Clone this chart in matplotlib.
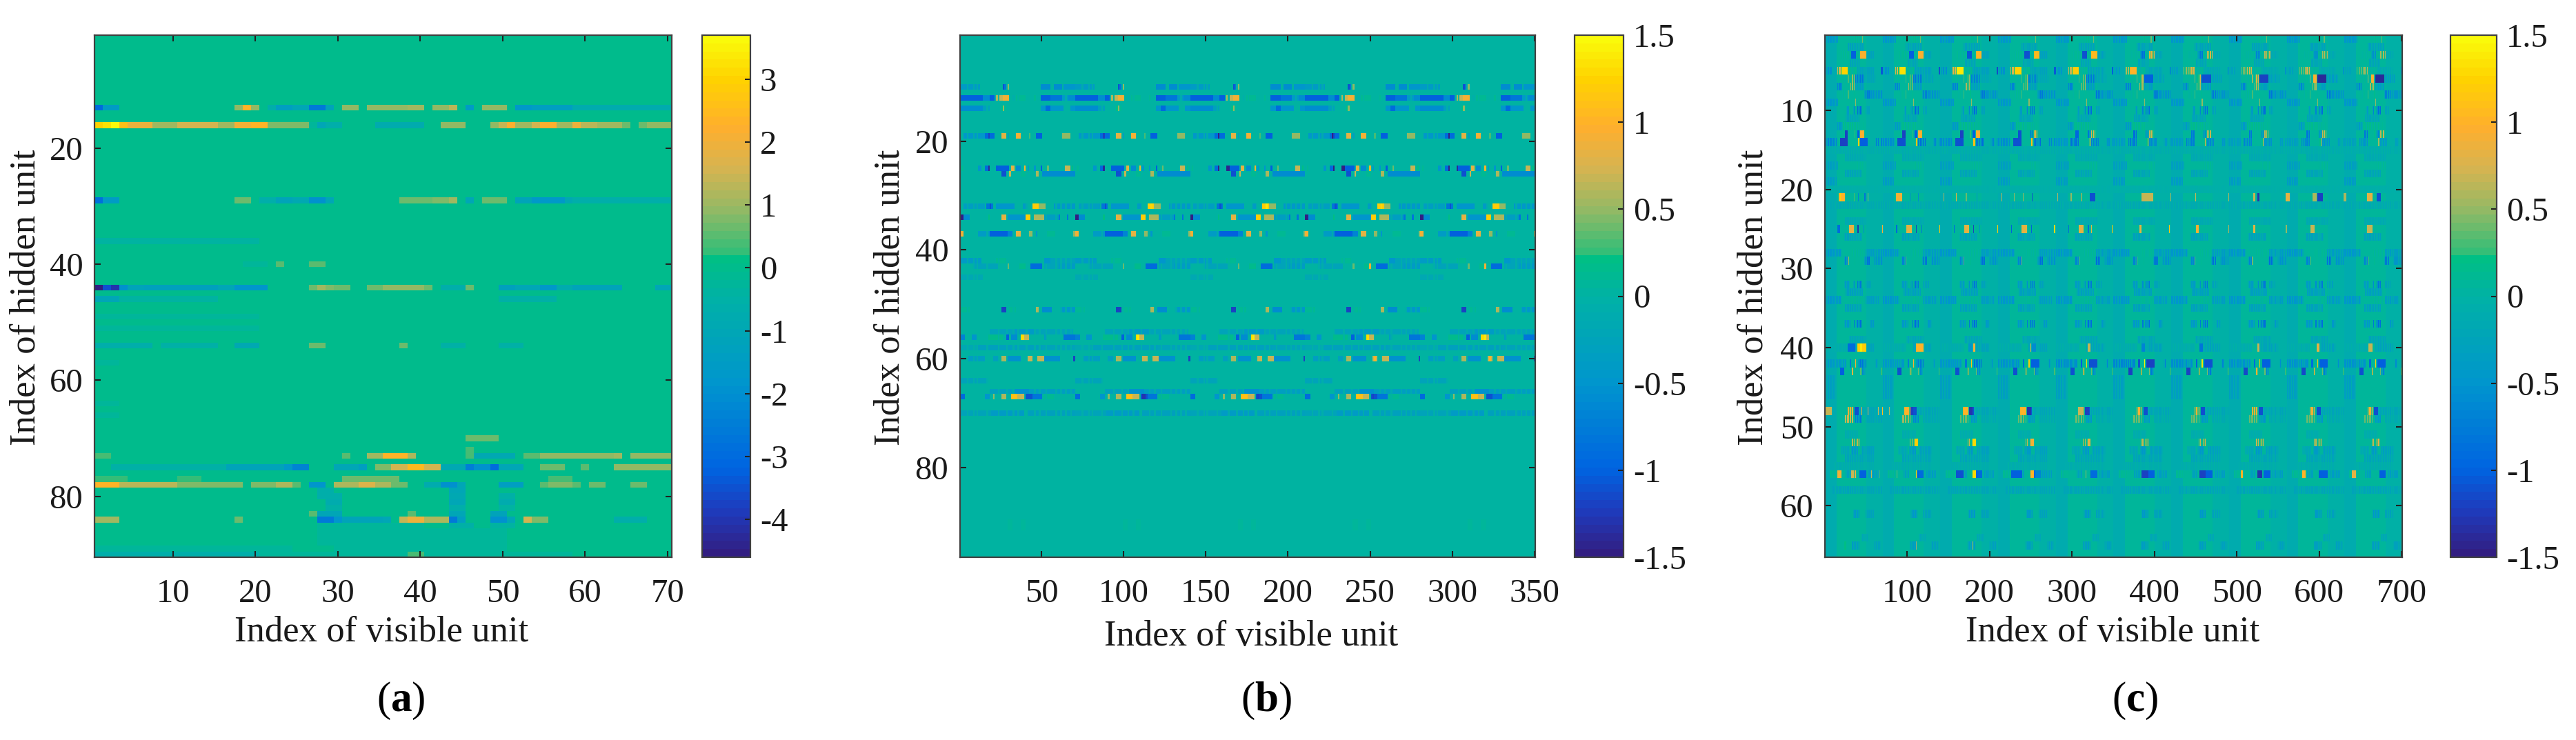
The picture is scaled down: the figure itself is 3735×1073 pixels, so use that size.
import numpy as np
import matplotlib
matplotlib.use('Agg')
import matplotlib.pyplot as plt
from matplotlib.colors import LinearSegmentedColormap

plt.rcParams['font.family'] = ['Liberation Serif', 'DejaVu Serif']
plt.rcParams['mathtext.fontset'] = 'custom'
plt.rcParams['mathtext.rm'] = 'Liberation Serif'
plt.rcParams['mathtext.bf'] = 'Liberation Serif:bold'

# every row: hidden unit -> (first visible unit, last visible unit, weight)
rows_a = {
    13: [(1, 1, -3), (2, 3, -1.5), (18, 18, .9), (19, 19, 2.3), (20, 20, .9), (22, 22, -.6), (23, 24, -1.4), (25, 26, -1),
         (27, 28, -2.6), (29, 29, -1.2), (31, 32, .9), (34, 38, .9), (39, 40, 1.1), (42, 43, .9), (44, 44, 1.3),
         (46, 46, -1.5), (48, 50, .9), (52, 53, -1.7), (54, 58, -1.4), (59, 70, -.8)],
    16: [(1, 1, 3), (2, 2, 3.2), (3, 3, 3.7), (4, 4, 2.6), (5, 7, 2), (8, 10, 1.1), (11, 15, 1.5), (16, 17, 1.1),
         (18, 19, 2.1), (20, 21, 2.3), (22, 26, .8), (27, 27, -.3), (28, 28, -1), (29, 30, -.6), (35, 40, -.8),
         (43, 45, .9), (49, 49, .9), (50, 50, 1.4), (51, 51, 2.2), (52, 53, 1), (54, 54, 1.6), (55, 56, 2.2),
         (57, 58, 1), (59, 59, 1.9), (60, 61, 1.3), (62, 64, 1.1), (65, 65, .6), (67, 67, .6), (68, 70, .9)],
    29: [(1, 1, -2.8), (2, 3, -1.5), (18, 19, .7), (21, 22, -.6), (23, 24, -1.2), (25, 26, -.9), (27, 28, -2),
         (29, 29, -1), (38, 41, .6), (42, 43, .8), (44, 44, 1.1), (46, 46, -1), (48, 50, .6), (52, 53, -1.2),
         (54, 57, -1.7), (58, 58, -.9), (59, 70, -.7)],
    36: [(1, 20, -.4)],
    40: [(19, 21, -.3), (23, 23, .5), (27, 28, .5)],
    44: [(1, 1, -4.5), (2, 2, -3.5), (3, 3, -4), (4, 4, -2), (5, 6, -1.2), (7, 15, -1.3), (16, 17, -1), (18, 21, -1.8),
         (27, 27, .6), (28, 28, 1.1), (29, 29, .8), (30, 31, .6), (34, 35, .6), (36, 40, .9), (41, 41, .6),
         (43, 45, -.6), (46, 46, .7), (50, 51, -1.3), (52, 54, -1), (55, 56, -1.7), (57, 58, -.8), (59, 64, -1.1),
         (69, 70, -1)],
    46: [(1, 3, -1), (4, 15, -.4), (50, 56, -.5)],
    49: [(1, 20, -.3)],
    51: [(1, 20, -.3)],
    54: [(1, 7, -.7), (9, 15, -.5), (18, 20, -.9), (27, 28, .6), (38, 38, .6), (43, 45, -.5), (50, 52, -.5)],
    57: [(1, 3, -.3)],
    64: [(1, 3, -.2)],
    66: [(1, 3, -.2)],
    70: [(46, 49, .6)],
    72: [(46, 46, .4)],
    73: [(1, 2, .4), (31, 31, .5), (34, 35, 1), (36, 38, 2.4), (39, 39, 1.2), (46, 46, .4), (47, 51, -.9),
         (53, 54, .5), (55, 63, .9), (64, 64, 1.1), (66, 70, .9)],
    75: [(3, 16, -.5), (17, 23, -1.1), (24, 24, -1.7), (25, 26, -2.3), (30, 32, -1), (33, 33, -1.4), (35, 36, .8),
         (37, 38, 1.5), (39, 40, 2.5), (41, 42, 1.5), (43, 45, -.9), (46, 46, -2.5), (47, 48, -1.9), (49, 49, -3),
         (50, 52, -1), (55, 57, .7), (60, 60, .5), (64, 70, .9)],
    77: [(1, 4, .3), (11, 13, .3), (31, 37, .6), (56, 58, .4)],
    78: [(1, 3, 2.4), (4, 10, 1.3), (11, 14, .8), (15, 18, .8), (20, 22, .8), (23, 24, 1.2), (25, 25, .5),
         (27, 28, -1.8), (30, 32, 1.2), (33, 34, 1.7), (35, 36, 1.2), (37, 38, .7), (41, 42, -.8), (43, 44, -2),
         (45, 45, -1), (50, 52, -1.4), (55, 55, .5), (56, 58, .8), (59, 59, .5), (61, 62, .6), (66, 67, .6)],
    79: [(28, 29, -.6), (44, 45, -1)],
    80: [(28, 30, -.6), (44, 45, -.9), (50, 51, -.5)],
    81: [(29, 30, -.8), (44, 45, -1), (50, 51, -.8)],
    82: [(29, 30, -.5), (44, 45, -.6), (50, 51, -.4)],
    83: [(27, 27, .5), (28, 30, -1), (39, 39, .5), (44, 45, -1), (49, 50, -1.2)],
    84: [(1, 3, 1), (18, 18, .7), (28, 29, -2.6), (30, 30, -1.8), (31, 35, -1.1), (36, 36, -1), (38, 38, 1.4),
         (39, 40, 2), (41, 43, 1.2), (44, 44, -2.6), (45, 45, -1.4), (49, 50, -2), (51, 51, -1), (53, 53, 1.6),
         (54, 55, .8), (64, 67, -.6)],
    85: [(28, 40, -.3), (44, 46, -.5), (49, 51, -.4)],
    86: [(28, 50, -.25)],
    87: [(28, 50, -.25)],
    88: [(28, 50, -.2)],
    89: [(1, 24, -.25), (30, 50, -.25)],
    90: [(1, 20, -.6), (21, 38, -.3), (39, 40, .4), (41, 58, -.3)],
}

# panel b repeats every 70 visible units, one period per row
rows_b = {
    10: [(1, 12, -.4), (27, 27, -1.1), (28, 28, -.8), (30, 30, .5), (50, 55, -.6), (58, 62, -.6), (64, 70, -.5)],
    12: [(1, 14, -1), (15, 18, -.6), (19, 21, -1), (23, 23, .6), (25, 26, .7), (27, 30, .9), (33, 33, -.3), (35, 40, .1),
         (46, 46, .4), (50, 55, -1), (56, 62, -.8), (63, 66, -.4), (67, 70, -.6)],
    14: [(1, 14, -.6), (15, 18, -.3), (26, 26, .2), (27, 27, .5), (28, 29, .1), (50, 52, -.5), (53, 55, -.9),
         (56, 63, -.5), (68, 70, -.5)],
    19: [(3, 15, -.45), (16, 17, -.9), (18, 18, -1.2), (19, 21, -.9), (26, 28, .8), (30, 30, -.3), (35, 37, .9),
         (39, 40, .05), (43, 43, .3), (47, 50, -1), (63, 67, .5)],
    25: [(2, 2, .1), (12, 13, -.5), (16, 17, -.9), (18, 18, -1.4), (23, 30, -1), (32, 33, .8), (35, 37, -.6), (40, 40, 1),
         (42, 42, -.5), (46, 46, -.5), (50, 50, -1), (53, 54, .4), (65, 67, .7), (69, 69, .2)],
    26: [(26, 28, -1.1), (31, 31, .7), (38, 41, .1), (47, 48, .6), (51, 70, -.6)],
    32: [(3, 15, -.35), (17, 18, -.8), (19, 19, -1.1), (20, 20, -.8), (23, 33, -.5), (39, 41, -.4), (45, 48, 1.2),
         (49, 52, .5), (58, 70, -.45)],
    34: [(1, 2, -1.5), (3, 6, -.6), (18, 18, .2), (26, 28, .8), (30, 40, -.5), (41, 43, 1.2), (46, 51, .6),
         (52, 60, -.35), (61, 61, -.8), (66, 66, -.8)],
    37: [(1, 2, .9), (12, 18, -.4), (19, 29, -1), (30, 32, -.7), (35, 37, .8), (43, 44, .5), (47, 47, -.5), (53, 58, .1),
         (70, 70, .5)],
    42: [(1, 13, -.4), (23, 29, .1), (52, 55, -.5), (56, 70, -.25)],
    43: [(9, 23, -.25), (30, 30, .4), (36, 40, .15), (44, 50, -.9), (52, 60, -.25), (61, 70, -.4)],
    45: [(1, 14, -.15)],
    51: [(1, 6, .1), (26, 28, -1.2), (31, 34, .1), (47, 48, .6), (51, 56, -.6), (62, 70, -.45)],
    55: [(19, 32, -.25), (33, 46, -.4), (47, 69, -.25)],
    56: [(1, 3, -.7), (8, 10, -.5), (17, 26, .15), (29, 30, -1), (32, 35, -.6), (38, 40, 1.3), (40, 42, .7),
         (52, 53, -.4), (64, 70, -.8)],
    58: [(1, 10, -.15), (11, 50, -.3), (51, 70, -.25)],
    60: [(6, 15, -.35), (21, 24, -.3), (26, 28, .6), (30, 37, -.55), (42, 44, .7), (48, 51, .7), (52, 61, -.55),
         (70, 70, -1.2)],
    64: [(1, 17, -.25)],
    66: [(19, 33, -.3), (34, 42, -.55), (43, 70, -.35)],
    67: [(1, 3, -.9), (16, 18, -.5), (21, 21, .5), (26, 28, .6), (32, 35, 1.1), (36, 39, .7), (41, 44, -1.1),
         (45, 50, -.8), (52, 57, .1)],
    70: [(1, 19, -.25), (20, 39, -.38), (42, 70, -.3)],
    90: [(29, 32, .08), (38, 40, .05)],
    91: [(29, 32, .08), (38, 40, .05)],
}

# columns inside a period where the faint bands of panel b break off
gaps_b = [5, 9, 11, 17, 24, 29, 33, 36, 41, 46, 49, 53, 59, 62, 65, 68]

# single cells of panel b that differ from the repeated period
cells_b = [
    (19, 158, -1.5), (19, 227, -1.5), (19, 298, -1.5), (25, 158, -1.5), (25, 163, -1.45), (25, 164, -1.45),
    (25, 228, -1.5), (25, 233, -1.5), (25, 234, -1.5), (25, 298, -1.5), (25, 303, -1.4), (34, 71, -1.5),
    (32, 117, 1.3), (32, 187, 1.4), (32, 257, 1.3), (32, 327, 1.2), (56, 109, 1.4), (56, 179, 1.4), (56, 320, 1.4),
    (67, 112, -1.3), (67, 113, -1.3), (67, 182, -1.2), (67, 252, -1.2), (43, 250, .9), (43, 320, .9), (60, 253, 1),
    (60, 323, 1),
]

# panel c also repeats every 70 visible units
rows_c = {
    1: [(1, 16, -.5), (38, 40, .15), (46, 46, .4)],
    2: [(29, 48, -.3)],
    3: [(21, 30, .1), (33, 38, -1), (44, 50, .95), (51, 60, -.3)],
    4: [(31, 43, -.25)],
    5: [(2, 8, -.5), (16, 20, .7), (21, 28, 1.2), (29, 33, .1), (36, 38, .15), (40, 60, -.3), (69, 70, -1)],
    6: [(24, 27, .1), (29, 29, .4), (33, 36, .7), (38, 48, -1), (49, 62, -.3)],
    7: [(15, 21, -.7), (32, 37, .6), (38, 48, -.4)],
    8: [(22, 25, .1), (29, 29, .3), (37, 37, .5), (49, 55, -.8), (56, 70, -.55)],
    9: [(1, 16, -.5), (38, 38, .5), (39, 40, .15)],
    10: [(27, 29, -.4), (35, 36, -.7), (40, 44, -.9), (50, 54, -.3)],
    11: [(26, 42, -.25)],
    12: [(15, 22, -.45), (23, 43, .15), (47, 47, .4)],
    13: [(25, 28, -1.2), (37, 37, .8), (40, 42, -1), (44, 48, .95)],
    14: [(1, 15, -.6), (19, 28, -1.1), (41, 42, 1.1), (44, 52, -.9), (62, 66, -.7), (69, 70, -.6)],
    15: [(1, 70, -.12)],
    16: [(25, 50, -.18)],
    17: [(1, 16, -.35), (40, 50, .1)],
    18: [(25, 44, -.25)],
    19: [(1, 14, -.4)],
    20: [(1, 70, -.08)],
    22: [(1, 70, -.15)],
    24: [(25, 50, -.18)],
    26: [(24, 45, -.3)],
    28: [(1, 20, -.5), (34, 48, .12), (50, 64, -.4), (65, 70, -.45)],
    29: [(24, 28, -.7), (29, 29, .4), (37, 37, .4), (49, 54, -.9), (60, 70, -.55)],
    32: [(24, 30, -.4), (35, 36, -.6), (40, 44, -.8), (50, 56, -.3)],
    33: [(26, 46, -.35)],
    34: [(1, 20, -.5), (34, 48, .12), (50, 66, -.4)],
    35: [(25, 44, -.3)],
    37: [(24, 31, -.45), (36, 36, -.8), (39, 44, -.9), (56, 60, -.45)],
    39: [(30, 50, -.25)],
    40: [(1, 28, -.1), (38, 60, -.3)],
    42: [(1, 26, -.55), (31, 32, -.9), (38, 38, 1.2), (41, 50, -1), (62, 64, -.6)],
    43: [(19, 23, -1.1), (34, 35, .85), (44, 44, .4), (46, 49, -.7), (69, 70, .3)],
    44: [(1, 13, -.35)],
    45: [(1, 13, -.35)],
    46: [(1, 13, -.35)],
    48: [(29, 34, .9), (37, 41, -1.1), (42, 70, -.25)],
    49: [(25, 34, .7), (38, 44, -.8), (50, 70, -.25)],
    51: [(25, 40, -.1)],
    52: [(34, 37, .7), (39, 42, .8)],
    53: [(20, 30, -.2), (33, 40, -.5), (45, 60, -.35)],
    54: [(25, 60, -.25)],
    55: [(10, 60, -.12)],
    56: [(7, 16, .1), (26, 32, -.3), (43, 50, -1), (54, 65, -.4)],
    58: [(10, 70, -.25)],
    61: [(35, 42, -.5), (50, 60, -.3)],
    64: [(45, 52, -.2)],
    65: [(34, 42, -.4), (60, 68, -.35)],
}

# pale tint behind panel c, it runs through all hidden units
tint_c = [(1, 14, -.12), (15, 50, .09), (51, 70, -.03)]

# fading or growing rows of panel c, one factor per period
gains_c = {
    3: [1, 1, 1.05, 1.1, 1.1, .9, .8, .7, .6, .6],
    5: [1.05, 1.1, 1.15, 1.05, 1, .85, .7, .6, .6, .5],
    6: [.8, .8, .75, .75, .8, 1, 1.1, 1.2, 1.4, 1.4],
    13: [1, 1, 1, .9, .8, .75, .7, .7, .7, .7],
    14: [1.1, 1, 1, 1, .8, .7, .7, .6, .6, .5],
    42: [.8, .8, .9, 1, 1.1, 1.2, 1.1, 1, 1, 1],
    43: [.9, 1, 1, 1, 1, 1.1, 1.1, 1.05, 1.05, 1],
    49: [1, .8, .6, .6, .6, .6, .6, .6, .6, .6],
}

# columns inside a period where the bands of panel c are thin
gaps_c = [3, 6, 9, 13, 15, 17, 20, 22, 24, 27, 30, 33, 35, 37, 39, 41, 43, 45, 47, 49, 51, 53, 55, 58, 60, 62, 64, 66, 68, 70]

# marks of panel c that do not repeat: (row, first, last, weight)
cells_c = [
    (21, 18, 24, 1), (21, 19, 19, 1.2), (21, 36, 36, .3), (21, 41, 41, -.7), (21, 49, 49, -.8), (21, 53, 53, .5),
    (21, 87, 94, .9), (21, 104, 104, -.6), (21, 114, 114, -.6), (21, 145, 145, .6), (21, 160, 160, .8),
    (21, 172, 172, .4), (21, 185, 185, -.5), (21, 215, 215, .65), (21, 230, 230, .5), (21, 241, 241, .5),
    (21, 252, 252, -1.1), (21, 283, 283, .6), (21, 299, 299, .5), (21, 312, 312, .8), (21, 322, 328, -1.1),
    (21, 385, 398, .7), (21, 420, 420, .6), (21, 450, 450, .7), (21, 490, 490, .6), (21, 520, 522, .7),
    (21, 525, 527, -1.3), (21, 560, 564, .8), (21, 592, 596, .6), (21, 598, 604, -1.2), (21, 630, 632, .6),
    (21, 658, 664, .8), (21, 670, 674, -1.1),
    (25, 16, 18, -.9), (25, 30, 35, .8), (25, 40, 41, -1.3), (25, 48, 48, -.6), (25, 70, 70, .9), (25, 87, 88, -.9),
    (25, 100, 105, .8), (25, 111, 111, -1.2), (25, 118, 118, -.8), (25, 140, 140, 1.2), (25, 157, 157, -.9),
    (25, 170, 175, .8), (25, 181, 181, -1.2), (25, 188, 188, -.6), (25, 210, 210, 1.2), (25, 227, 227, -1),
    (25, 239, 245, .8), (25, 251, 251, -1), (25, 279, 279, 1.3), (25, 296, 296, -.9), (25, 309, 314, .8),
    (25, 320, 320, -.9), (25, 324, 324, .8), (25, 349, 349, 1.2), (25, 382, 384, .8), (25, 418, 418, 1.2),
    (25, 451, 453, .9), (25, 490, 490, .6), (25, 520, 522, .8), (25, 560, 560, .5), (25, 590, 594, .7),
    (25, 658, 664, .7),
    (40, 29, 37, -.9), (40, 40, 50, 1.2), (40, 44, 45, 1.4), (40, 111, 120, 1), (40, 175, 178, -.5), (40, 181, 182, .9),
    (40, 250, 250, .8), (40, 252, 256, -.6), (40, 320, 322, .7), (40, 385, 388, -.7), (40, 455, 458, -.8),
    (40, 525, 527, .7), (40, 597, 600, .8), (40, 660, 664, .7),
    (48, 2, 8, .7), (48, 45, 45, 1), (48, 53, 53, .8), (48, 65, 65, .7), (48, 70, 70, 1.1), (48, 79, 79, .6),
    (48, 97, 100, 1), (48, 105, 107, -1.2), (48, 168, 173, 1), (48, 176, 179, -1.3), (48, 238, 243, 1),
    (48, 246, 250, -1.3), (48, 308, 313, .7), (48, 316, 320, -1.2),
    (52, 110, 113, 1.2), (52, 180, 183, 1.3), (52, 250, 253, .9), (52, 320, 321, .8),
    (56, 16, 20, .9), (56, 33, 35, .7), (56, 37, 38, .8), (56, 57, 57, .7), (56, 66, 66, .4), (56, 88, 88, .4),
    (56, 111, 111, 1.2), (56, 115, 120, -.9), (56, 160, 168, -1.1), (56, 180, 183, 1.3), (56, 186, 191, -.9),
    (56, 227, 239, -1), (56, 250, 253, 1), (56, 256, 262, -.7), (56, 317, 317, .5), (56, 324, 330, -.9),
    (56, 385, 392, -1.2), (56, 455, 462, -1.2), (56, 505, 507, 1), (56, 525, 530, -1.3), (56, 580, 583, 1),
    (56, 600, 606, -1), (56, 640, 644, .8),
    (65, 24, 26, .2), (65, 111, 111, .5), (65, 180, 180, .6),
]

xticks_a = [10, 20, 30, 40, 50, 60, 70]
xticks_b = [50, 100, 150, 200, 250, 300, 350]
xticks_c = [100, 200, 300, 400, 500, 600, 700]
yticks_a = [20, 40, 60, 80]
yticks_b = [20, 40, 60, 80]
yticks_c = [10, 20, 30, 40, 50, 60]
cbar_ticks_a = [-4, -3, -2, -1, 0, 1, 2, 3]
cbar_labels_a = ['-4', '-3', '-2', '-1', '0', '1', '2', '3']
cbar_ticks_bc = [-1.5, -1, -.5, 0, .5, 1, 1.5]
cbar_labels_bc = ['-1.5', '-1', '-0.5', '0', '0.5', '1', '1.5']

anchors = [(0, (50, 30, 130)), (.085, (30, 60, 190)), (.165, (0, 100, 225)), (.333, (0, 150, 205)),
           (.5, (0, 178, 165)), (.578, (0, 192, 130)), (.585, (50, 190, 120)), (.67, (150, 185, 100)),
           (.75, (215, 180, 80)), (.83, (255, 175, 45)), (.92, (255, 210, 0)), (1, (250, 250, 10))]
cmap = LinearSegmentedColormap.from_list('weights', [(p, np.array(c) / 255) for p, c in anchors], N=64)

W, H = 3735, 1073
fig = plt.figure(figsize=(W / 100, H / 100), dpi=100, facecolor='white')
EDGE = '#404040'
FS = 35
FS_LABEL = 38


def px_axes(x0, x1, y0, y1):
    return fig.add_axes([x0 / W, 1 - y1 / H, (x1 - x0) / W, (y1 - y0) / H])


def fill(n_rows, n_cols, rows, period=None, gains=None):
    m = np.zeros((n_rows, n_cols))
    for row, segs in rows.items():
        for first, last, val in segs:
            if period:
                for i, k in enumerate(range(0, n_cols, period)):
                    g = gains[row][i] if gains and row in gains else 1
                    m[row - 1, first - 1 + k:last + k] = val * g
            else:
                m[row - 1, first - 1:last] = val
    return m


def thin(m, gaps, period, limit):
    for k in range(0, m.shape[1], period):
        for g in gaps:
            col = m[:, k + g - 1]
            col[np.abs(col) < limit] *= .3


mat_a = fill(90, 70, rows_a)
mat_b = fill(96, 350, rows_b, period=70)
thin(mat_b, gaps_b, 70, .5)
for row, col, val in cells_b:
    mat_b[row - 1, col - 1] = val
mat_c = fill(66, 700, rows_c, period=70, gains=gains_c)
thin(mat_c, gaps_c, 70, .95)
for first, last, val in tint_c:
    for k in range(0, 700, 70):
        block = mat_c[:, first - 1 + k:last + k]
        block[block == 0] = val
for row, first, last, val in cells_c:
    mat_c[row - 1, first - 1:last] = val

panels = [
    (mat_a, (-4.6, 3.7), xticks_a, yticks_a, cbar_ticks_a, cbar_labels_a, (137, 974), (1018, 1088), 553, 917, 38, 581, 'a'),
    (mat_b, (-1.5, 1.5), xticks_b, yticks_b, cbar_ticks_bc, cbar_labels_bc, (1392, 2226), (2283, 2354), 1814, 923, 1290, 1836, 'b'),
    (mat_c, (-1.5, 1.5), xticks_c, yticks_c, cbar_ticks_bc, cbar_labels_bc, (2646, 3483), (3553, 3620), 3063, 917, 2543, 3096, 'c'),
]

for mat, lim, xt, yt, ct, cl, (x0, x1), (c0, c1), xlab_x, xlab_y, ylab_x, tag_x, tag in panels:
    ax = px_axes(x0, x1, 51, 808)
    im = ax.imshow(mat, cmap=cmap, vmin=lim[0], vmax=lim[1], aspect='auto', interpolation='nearest',
                   extent=(.5, mat.shape[1] + .5, mat.shape[0] + .5, .5))
    ax.set_xticks(xt)
    ax.set_yticks(yt)
    ax.tick_params(direction='in', top=True, right=True, length=6.5, width=1.5, color='#202020',
                   labelsize=FS, labelcolor='#1a1a1a')
    ax.tick_params(axis='x', pad=22)
    ax.tick_params(axis='y', pad=12)
    for s in ax.spines.values():
        s.set_color(EDGE)
        s.set_linewidth(1.6)
    fig.text(xlab_x / W, 1 - xlab_y / H, 'Index of visible unit', ha='center', va='center', fontsize=FS_LABEL, color='#1a1a1a')
    fig.text(ylab_x / W, 1 - 431 / H, 'Index of hidden unit', ha='center', va='center', rotation=90, fontsize=FS_LABEL,
             color='#1a1a1a')
    fig.text(tag_x / W, 1 - 1016 / H, '($\\mathbf{%s}$)' % tag, ha='center', va='center', fontsize=44, color='black')

    cax = px_axes(c0, c1, 51, 808)
    cb = fig.colorbar(im, cax=cax)
    cb.set_ticks(ct)
    cb.set_ticklabels(cl)
    cax.tick_params(direction='in', length=6, width=1.5, color='#202020', labelsize=FS, labelcolor='#1a1a1a', pad=10)
    cb.outline.set_edgecolor(EDGE)
    cb.outline.set_linewidth(1.6)

fig.savefig('out.png', dpi=100)
